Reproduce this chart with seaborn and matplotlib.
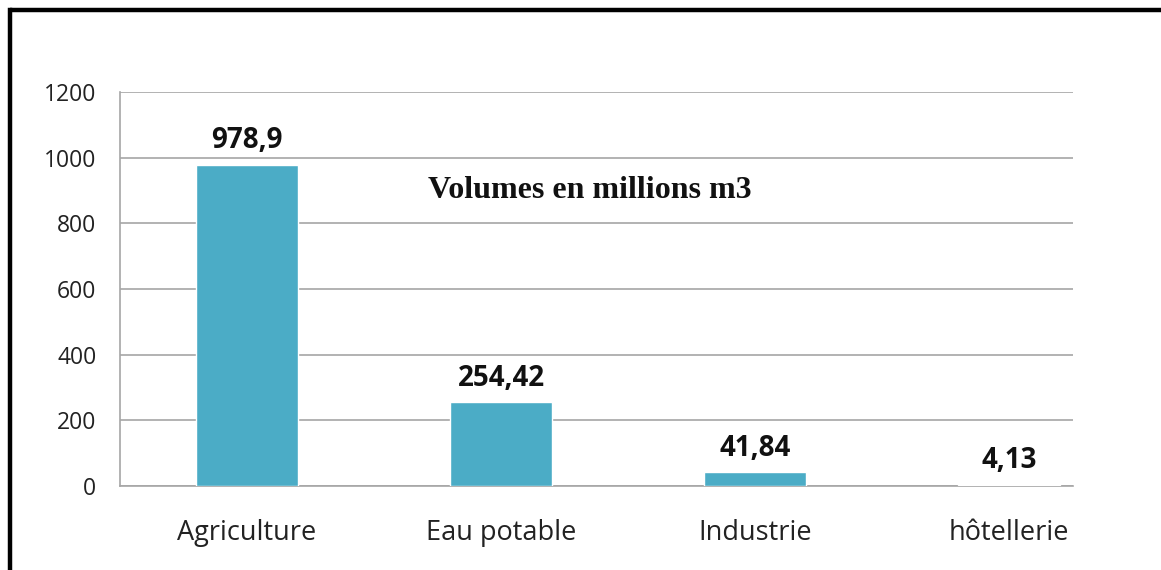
import matplotlib
matplotlib.use("Agg")
import matplotlib.pyplot as plt
from matplotlib.lines import Line2D
import seaborn as sns
import pandas as pd

categories = ["Agriculture", "Eau potable", "Industrie", "hôtellerie"]
volumes = [978.9, 254.42, 41.84, 4.13]
value_labels = ["978,9", "254,42", "41,84", "4,13"]
y_ticks = [0, 200, 400, 600, 800, 1000, 1200]

df = pd.DataFrame({"secteur": categories, "volume": volumes})

sns.set_style("white")
plt.rcParams["font.family"] = ["Open Sans", "DejaVu Sans"]

fig = plt.figure(figsize=(11.61, 5.70), dpi=100)
W, H = 1161, 570
ax = fig.add_axes([120 / W, 1 - 486 / H, (1073 - 120) / W, (486 - 92) / H])

sns.barplot(data=df, x="secteur", y="volume", color="#4BACC6", width=0.40,
            saturation=1, ax=ax, zorder=3)

ax.set_xlim(-0.5, 3.252)
ax.set_ylim(0, 1200)
ax.set_yticks(y_ticks)
ax.set_yticklabels([str(t) for t in y_ticks], fontsize=16.5, color="#222222")
ax.yaxis.grid(True, color="#A6A6A6", linewidth=1.2, zorder=0)
ax.set_xlabel("")
ax.set_ylabel("")

for s in ["top", "right"]:
    ax.spines[s].set_visible(False)
ax.spines["left"].set_color("#A6A6A6")
ax.spines["bottom"].set_color("#A6A6A6")
ax.spines["left"].set_linewidth(1.2)
ax.spines["bottom"].set_linewidth(1.2)

# category labels centered, ticks on the boundaries
ax.set_xticks([0, 1, 2, 3])
ax.set_xticklabels(categories, fontsize=19.5, color="#222222")
ax.tick_params(axis="x", length=0, pad=24)
ax.set_xticks([-0.5, 0.5, 1.5, 2.5], minor=True)
ax.tick_params(axis="x", which="minor", length=7, color="#A6A6A6", width=1.2)
ax.tick_params(axis="y", length=7, color="#A6A6A6", width=1.2, pad=10)

for i, (v, lab) in enumerate(zip(volumes, value_labels)):
    ax.annotate(lab, (i, v), xytext=(0, 7), textcoords="offset points",
                ha="center", va="bottom", fontsize=20, fontweight="bold",
                color="#111111")

ax.text(1.35, 900, "Volumes en millions m3", ha="center", va="center",
        fontsize=23, fontweight="bold", family="Liberation Serif",
        color="#111111")

# black frame around the chart (top and left edges visible)
fig.add_artist(Line2D([10 / W, 1], [1 - 10 / H, 1 - 10 / H], color="black",
                      linewidth=3.2, solid_capstyle="butt",
                      transform=fig.transFigure))
fig.add_artist(Line2D([10 / W, 10 / W], [0, 1 - 10 / H], color="black",
                      linewidth=3.2, solid_capstyle="projecting",
                      transform=fig.transFigure))

fig.savefig("out.png", dpi=100)
